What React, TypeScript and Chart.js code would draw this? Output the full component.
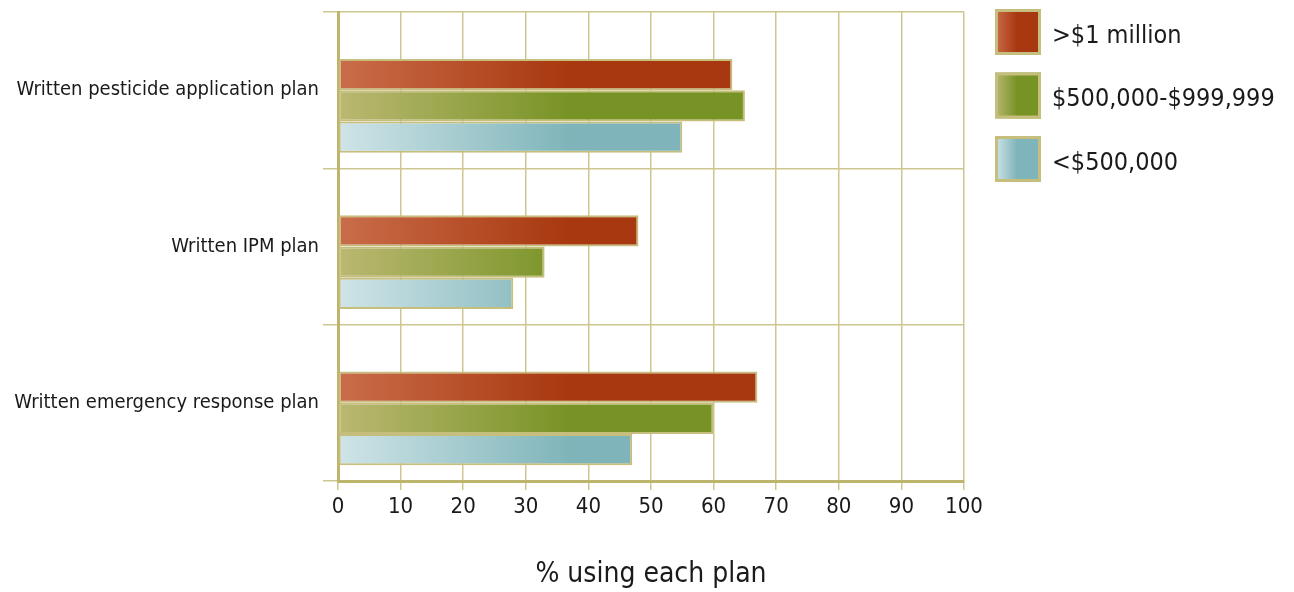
import React, { useEffect, useRef } from "react";
import { Chart, registerables } from "chart.js";

Chart.register(...registerables);

const categories = [
  "Written pesticide application plan",
  "Written IPM plan",
  "Written emergency response plan",
];
const seriesNames = [">$1 million", "$500,000-$999,999", "<$500,000"];
const overMillion = [63, 48, 67];
const midRange = [65, 33, 60];
const underHalfMillion = [55, 28, 47];
// empty slot above each group (the bars sit low in their category band in the original)
const spacer = [null, null, null];
const xTicks = [0, 10, 20, 30, 40, 50, 60, 70, 80, 90, 100];

const FONT = "'DejaVu Sans Condensed', 'Liberation Sans', sans-serif";
const OLIVE = "#c6be7c";
const GRID = "#cdc78f";
const SHIFT = 4;

const palettes = [
  ["#c96d4a", "#a8380f"],
  ["#bbb872", "#789325"],
  ["#cfe4e7", "#7fb5ba"],
];

function barGradient(ctx: any, idx: number) {
  const chart = ctx.chart;
  const area = chart.chartArea;
  if (!area) return palettes[idx][1];
  const g = chart.ctx.createLinearGradient(area.left, 0, area.left + 230, 0);
  g.addColorStop(0, palettes[idx][0]);
  g.addColorStop(1, palettes[idx][1]);
  return g;
}

const legendPlugin = {
  id: "customLegend",
  afterDraw(chart: any) {
    const c = chart.ctx;
    c.save();
    seriesNames.forEach((name, i) => {
      const x = 995;
      const y = 9 + SHIFT + 63.5 * i;
      const s = 46;
      const g = c.createLinearGradient(x, 0, x + 22, 0);
      g.addColorStop(0, palettes[i][0]);
      g.addColorStop(1, palettes[i][1]);
      c.fillStyle = g;
      c.fillRect(x, y, s, s);
      c.strokeStyle = OLIVE;
      c.lineWidth = 3;
      c.strokeRect(x + 1.5, y + 1.5, s - 3, s - 3);
      c.fillStyle = "#1a1a1a";
      c.font = `25px ${FONT}`;
      c.textBaseline = "middle";
      c.textAlign = "left";
      c.fillText(name, 1052, y + s / 2 + 4);
    });
    c.restore();
  },
};

export default function App() {
  const ref = useRef<HTMLCanvasElement>(null);
  useEffect(() => {
    if (!ref.current) return;
    const series = [overMillion, midRange, underHalfMillion];
    const chart = new Chart(ref.current, {
      type: "bar",
      data: {
        labels: categories,
        datasets: [
          {
            label: "",
            data: spacer,
            backgroundColor: "rgba(0,0,0,0)",
            borderWidth: 0,
            categoryPercentage: 0.8,
            barPercentage: 1.0,
          },
          ...series.map((d, i) => ({
            label: seriesNames[i],
            data: d,
            backgroundColor: (ctx: any) => barGradient(ctx, i),
            borderColor: OLIVE,
            borderWidth: 2,
            borderSkipped: false,
            categoryPercentage: 0.8,
            barPercentage: 1.0,
          })),
        ],
      },
      options: {
        indexAxis: "y",
        responsive: false,
        animation: false,
        maintainAspectRatio: false,
        layout: { padding: { top: 0, right: 330, left: 0, bottom: 0 } },
        plugins: {
          legend: { display: false },
          tooltip: { enabled: false },
        },
        scales: {
          x: {
            type: "linear",
            min: 0,
            max: 100,
            afterFit: (scale: any) => {
              scale.height = 111;
            },
            afterBuildTicks: (scale: any) => {
              scale.ticks = xTicks.map((v) => ({ value: v }));
            },
            ticks: {
              font: { family: FONT, size: 22 },
              color: "#1a1a1a",
              padding: 4,
            },
            grid: { color: GRID, lineWidth: 1.5, tickLength: 9 },
            border: { color: "#bdb56c", width: 3 },
            title: {
              display: true,
              text: "% using each plan",
              font: { family: FONT, size: 28 },
              color: "#1a1a1a",
              padding: { top: 0, bottom: 0 },
            },
          },
          y: {
            type: "category",
            afterFit: (scale: any) => {
              scale.width = 338;
            },
            ticks: {
              font: { family: FONT, size: 20 },
              color: "#1a1a1a",
              padding: 4,
            },
            grid: { color: GRID, lineWidth: 1.5, tickLength: 15, offset: true },
            border: { color: "#bdb56c", width: 3 },
          },
        },
      },
      plugins: [legendPlugin],
    } as any);
    return () => chart.destroy();
  }, []);
  return (
    <div style={{ position: "fixed", left: 0, top: 0, width: 1294, height: 592, background: "#fff", overflow: "hidden" }}>
      <canvas
        ref={ref}
        width={1294}
        height={592 + SHIFT}
        style={{ position: "absolute", left: 0, top: -SHIFT, width: 1294, height: 592 + SHIFT }}
      />
    </div>
  );
}
